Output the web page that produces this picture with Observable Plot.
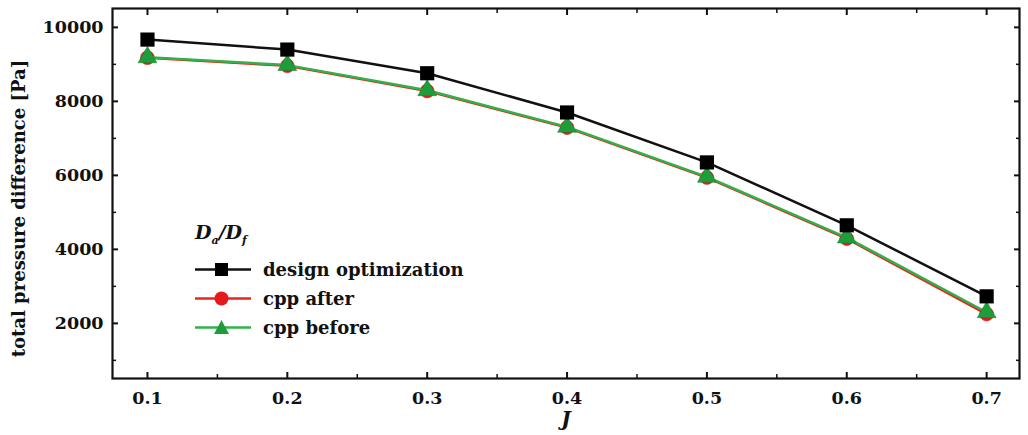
<!DOCTYPE html>
<html>
<head>
<meta charset="utf-8">
<script src="https://cdn.jsdelivr.net/npm/d3@7"></script>
<script src="https://cdn.jsdelivr.net/npm/@observablehq/plot@0.6"></script>
<style>
  body { margin: 0; background: #fff; }
  #wrap { position: relative; width: 1028px; height: 435px; font-family: "DejaVu Serif", serif; }
  #legend { position: absolute; left: 193px; top: 221px; font-weight: bold; font-size: 18px; color: #111; }
  #legend .title { font-style: italic; font-size: 19px; margin-left: 2px; height: 34px; }
  #legend .title sub { font-size: 11px; }
  #legend .row { display: flex; align-items: center; height: 29px; }
  #legend svg { margin-right: 10px; }
</style>
</head>
<body>
<div id="wrap"></div>
<script>
// ---- data ----
const J = [0.1, 0.2, 0.3, 0.4, 0.5, 0.6, 0.7];
const designOptimization = [9670, 9400, 8760, 7700, 6350, 4650, 2730];
const cppAfter = [9180, 8960, 8280, 7290, 5940, 4290, 2250];
const cppBefore = [9190, 8980, 8300, 7310, 5960, 4320, 2300];
const xTicks = [0.1, 0.2, 0.3, 0.4, 0.5, 0.6, 0.7];
const xMinorTicks = [0.15, 0.25, 0.35, 0.45, 0.55, 0.65];
const yTicks = [2000, 4000, 6000, 8000, 10000];
const yMinorTicks = [1000, 3000, 5000, 7000, 9000];
const seriesNames = ["design optimization", "cpp after", "cpp before"];
const seriesColors = ["#111111", "#e8251c", "#2fb24a"];
const markerColors = ["#000000", "#e3191c", "#1e9e3a"];
const xLabel = "J";
const yLabel = "total pressure difference [Pa]";

const rows = (vals) => J.map((j, i) => ({ J: j, v: vals[i] }));
const dOpt = rows(designOptimization), after = rows(cppAfter), before = rows(cppBefore);

const font = "DejaVu Serif";
const plot = Plot.plot({
  width: 1028,
  height: 435,
  marginLeft: 112,
  marginRight: 9,
  marginTop: 8,
  marginBottom: 57,
  style: { fontFamily: font, fontWeight: "bold", fontSize: "17.5px", color: "#111", background: "#fff" },
  x: { domain: [0.075, 0.7235] },
  y: { domain: [510, 10510] },
  marks: [
    // tick labels
    Plot.axisX(xTicks, { anchor: "bottom", tickSize: 0, tickPadding: 13, tickFormat: d3.format(".1f"), label: null }),
    Plot.axisY(yTicks, { anchor: "left", tickSize: 0, tickPadding: 9, tickFormat: d3.format("d"), label: null }),
    // inward ticks
    Plot.axisX(xTicks, { anchor: "bottom", tickSize: 6, dy: -6, fill: "none", strokeWidth: 2, label: null }),
    Plot.axisX(xMinorTicks, { anchor: "bottom", tickSize: 4, dy: -4, fill: "none", strokeWidth: 1.5, label: null }),
    Plot.axisX(xTicks, { anchor: "top", tickSize: 6, dy: 6, fill: "none", strokeWidth: 2, label: null }),
    Plot.axisX(xMinorTicks, { anchor: "top", tickSize: 4, dy: 4, fill: "none", strokeWidth: 1.5, label: null }),
    Plot.axisY(yTicks, { anchor: "left", tickSize: 6, dx: 6, fill: "none", strokeWidth: 2, label: null }),
    Plot.axisY(yMinorTicks, { anchor: "left", tickSize: 4, dx: 4, fill: "none", strokeWidth: 1.5, label: null }),
    Plot.axisY(yTicks, { anchor: "right", tickSize: 6, dx: -6, fill: "none", strokeWidth: 2, label: null }),
    Plot.axisY(yMinorTicks, { anchor: "right", tickSize: 4, dx: -4, fill: "none", strokeWidth: 1.5, label: null }),
    Plot.frame({ stroke: "#111", strokeWidth: 2.2 }),
    // axis titles
    Plot.text([xLabel], { text: d => d, frameAnchor: "bottom", dy: 47, fontStyle: "italic", fontSize: 20, fontWeight: "bold" }),
    Plot.text([yLabel], { text: d => d, frameAnchor: "left", textAnchor: "middle", rotate: -90, dx: -93, dy: 15, fontSize: 18, fontWeight: "bold" }),
    // series
    Plot.line(after, { x: "J", y: "v", stroke: seriesColors[1], strokeWidth: 2.5 }),
    Plot.dot(after, { x: "J", y: "v", symbol: "circle", r: 7, fill: markerColors[1], stroke: "#c0392b", strokeWidth: 0.5 }),
    Plot.line(before, { x: "J", y: "v", stroke: seriesColors[2], strokeWidth: 2.5 }),
    Plot.dot(before, { x: "J", y: "v", symbol: "triangle", r: 7, fill: markerColors[2], stroke: "#1a7a30", strokeWidth: 0.5 }),
    Plot.line(dOpt, { x: "J", y: "v", stroke: seriesColors[0], strokeWidth: 2.5 }),
    Plot.dot(dOpt, { x: "J", y: "v", symbol: "square", r: 8, fill: markerColors[0] })
  ]
});
const wrap = document.getElementById("wrap");
wrap.appendChild(plot);

// legend overlay
const legend = document.createElement("div");
legend.id = "legend";
const symbols = ["square", "circle", "triangle"];
let html = `<div class="title">D<sub>a</sub>/D<sub>f</sub></div>`;
seriesNames.forEach((name, i) => {
  const sym = symbols[i];
  let marker;
  if (sym === "square") marker = `<rect x="22" y="5" width="13" height="13" fill="${markerColors[i]}"/>`;
  else if (sym === "circle") marker = `<circle cx="28.5" cy="11.5" r="7" fill="${markerColors[i]}"/>`;
  else marker = `<path d="M28.5,4 L36,18 L21,18 Z" fill="${markerColors[i]}"/>`;
  html += `<div class="row"><svg width="60" height="23"><line x1="2" y1="11.5" x2="58" y2="11.5" stroke="${seriesColors[i]}" stroke-width="2.5"/>${marker}</svg><span>${name}</span></div>`;
});
legend.innerHTML = html;
wrap.appendChild(legend);
</script>
</body>
</html>
